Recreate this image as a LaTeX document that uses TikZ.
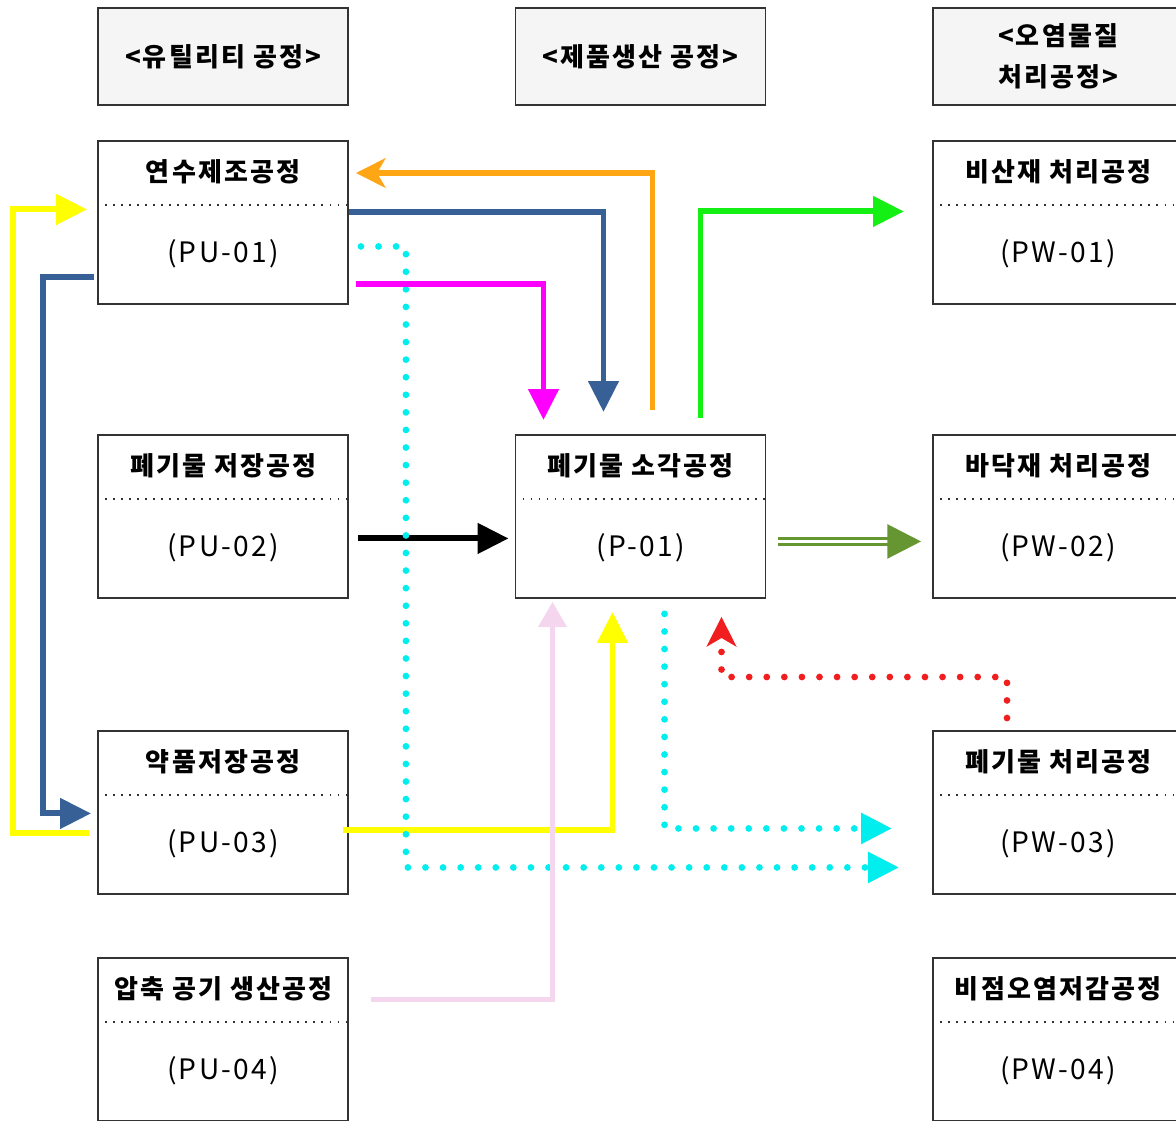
\documentclass[tikz,border=0pt]{standalone}
\usepackage{fontspec}
\setmainfont[LetterSpace=8]{Noto Sans CJK KR}
\usetikzlibrary{arrows.meta,calc}
\definecolor{flowblue}{RGB}{54,96,150}
\definecolor{floworange}{RGB}{255,166,20}
\definecolor{flowgreen}{RGB}{20,240,20}
\definecolor{flowcyan}{RGB}{0,238,238}
\definecolor{flowolive}{RGB}{102,150,50}
\definecolor{flowred}{RGB}{240,30,30}
\definecolor{flowpink}{RGB}{244,214,238}
\definecolor{flowyellow}{RGB}{255,255,0}
\definecolor{flowmagenta}{RGB}{255,0,255}
\begin{document}
\begin{tikzpicture}[x=0.025cm,y=-0.025cm]
  \tikzstyle{box}=[draw=black!80,line width=1.3pt,minimum width=6.25cm,minimum height=4.075cm,inner sep=0pt]
  \tikzstyle{head}=[box,fill=black!4,minimum height=2.425cm,font=\bfseries\fontsize{18.5}{29}\selectfont,align=center]
  \tikzstyle{sep}=[line width=1.3pt,dash pattern=on 1.3pt off 4.4pt,draw=black!80]
  \tikzstyle{title}=[font=\bfseries\fontsize{18.5}{20}\selectfont]
  \tikzstyle{code}=[font=\fontsize{20}{22}\selectfont]
  \tikzstyle{flow}=[line width=4.2pt,-{Triangle[length=22pt,width=21pt]}]
  \tikzstyle{notch}=[line width=4.2pt,-{Stealth[length=21pt,width=21pt,inset=6pt]}]
  \tikzstyle{dots}=[line width=4.8pt,line cap=round,dash pattern=on 0pt off 12.5pt]

  \useasboundingbox (0,0) rectangle (1176,1120);

  % column heads
  \node[head] (hutil) at (223,56.5) {<유틸리티 공정>};
  \node[head] (hprod) at (640.5,56.5) {<제품생산 공정>};
  \node[head] (hpoll) at (1058,56.5) {<오염물질\\처리공정>};

  % process boxes
  \foreach \nm/\px/\py/\ti/\co in {pu1/223/140/연수제조공정/(PU-01),
      pu2/223/434/폐기물 저장공정/(PU-02),
      pu3/223/730/약품저장공정/(PU-03),
      pu4/223/957/압축 공기 생산공정/(PU-04),
      p01/640.5/434/폐기물 소각공정/(P-01),
      pw1/1058/140/비산재 처리공정/(PW-01),
      pw2/1058/434/바닥재 처리공정/(PW-02),
      pw3/1058/730/폐기물 처리공정/(PW-03),
      pw4/1058/957/비점오염저감공정/(PW-04)}
  {
    \node[box,anchor=north] (\nm) at (\px,\py) {};
    \draw[sep] (\nm.west |- 0,\py+65) -- (\nm.east |- 0,\py+65);
    \node[title] at (\px,\py+32) {\ti};
    \node[code] at (\px,\py+114) {\co};
  }

  % yellow
  \draw[flow,flowyellow] ($(pu3.east)+(-6,18)$) -| ($(p01.south)+(-28,13)$);
  \draw[flow,flowyellow] ($(pu3.west)+(-8,21)$) -- ++(-76,0) |- ($(pu1.west)+(-10,-13)$);
  % black
  \draw[flow,black] ($(pu2.east)+(9,22)$) -- ($(p01.west)+(-6,22)$);
  % cyan dots
  \draw[dots,flowcyan,-{Triangle[length=22pt,width=21pt]}] ($(pu1.east)+(12,24)$) -| ($(pu3.east)+(57,0)$) |- ($(pw3.west)+(-33,55)$);
  \draw[dots,flowcyan,-{Triangle[length=22pt,width=21pt]}] ($(p01.south)+(24,15)$) |- ($(pw3.west)+(-40,16)$);
  % magenta
  \draw[flow,flowmagenta] ($(pu1.east)+(7,62)$) -| ($(p01.north)+(-97,-14)$);
  % blue
  \draw[flow,flowblue] ($(pu1.east)+(0,-10)$) -| ($(p01.north)+(-37,-22)$);
  \draw[flow,flowblue] ($(pu1.west)+(-3,55)$) -- ++(-51,0) |- ($(pu3.west)+(-6,1)$);
  % orange
  \draw[notch,floworange] ($(p01.north)+(12,-24)$) |- ($(pu1.north east)+(7,33)$);
  % green
  \draw[flow,flowgreen] ($(p01.north)+(60,-16)$) |- ($(pw1.west)+(-28,-11)$);
  % olive
  \draw[flowolive,line width=2.4pt,double=white,double distance=1.8pt,-{Triangle[length=24pt,width=24pt]}] ($(p01.east)+(12,25)$) -- ($(pw2.west)+(-11,25)$);
  % red
  \draw[dots,flowred,-{Stealth[length=21pt,width=21pt,inset=6pt]}] ($(pw3.north)+(-51,-12)$) -- ++(0,-41) -| ($(p01.south)+(81,18)$);
  % pink
  \draw[flowpink,line width=3pt,-{Triangle[length=18pt,width=20pt]}] ($(pu4.east)+(22,-40)$) -| ($(p01.south)+(-88,3)$);
\end{tikzpicture}
\end{document}
